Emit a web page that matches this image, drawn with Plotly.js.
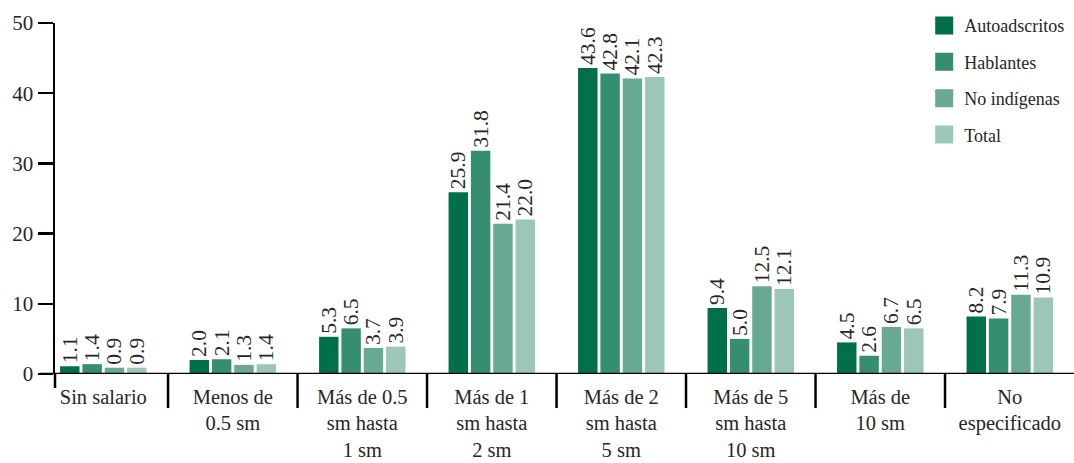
<!DOCTYPE html>
<html>
<head>
<meta charset="utf-8">
<script src="https://cdn.plot.ly/plotly-3.0.1.min.js"></script>
<style>
  html, body { margin: 0; padding: 0; background: #fff; }
  #chart { width: 1074px; height: 463px; }
</style>
</head>
<body>
<div id="chart"></div>
<script>
// Salary ranges (in minimum wages, "sm")
const categories = [
  "Sin salario",
  "Menos de<br>0.5 sm",
  "Más de 0.5<br>sm hasta<br>1 sm",
  "Más de 1<br>sm hasta<br>2 sm",
  "Más de 2<br>sm hasta<br>5 sm",
  "Más de 5<br>sm hasta<br>10 sm",
  "Más de<br>10 sm",
  "No<br>especificado"
];

// Percentage of workers per group
const autoadscritos = [1.1, 2.0, 5.3, 25.9, 43.6, 9.4, 4.5, 8.2];
const hablantes     = [1.4, 2.1, 6.5, 31.8, 42.8, 5.0, 2.6, 7.9];
const noIndigenas   = [0.9, 1.3, 3.7, 21.4, 42.1, 12.5, 6.7, 11.3];
const total         = [0.9, 1.4, 3.9, 22.0, 42.3, 12.1, 6.5, 10.9];

const seriesNames = ["Autoadscritos", "Hablantes", "No indígenas", "Total"];
const seriesValues = [autoadscritos, hablantes, noIndigenas, total];
const seriesColors = ["#00704a", "#358e6f", "#67a992", "#9cc7b7"];

const yTicks = [0, 10, 20, 30, 40, 50];

const FONT = "Liberation Serif";
const TEXT = "#262626";

const traces = seriesNames.map((name, i) => ({
  type: "bar",
  name: name,
  legendgroup: name,
  x: categories,
  y: seriesValues[i],
  marker: { color: seriesColors[i], line: { width: 0 } },
  texttemplate: "%{y:.1f}",
  textposition: "outside",
  textangle: -90,
  constraintext: "none",
  cliponaxis: false,
  textfont: { family: FONT, size: 21.5, color: TEXT },
  hoverinfo: "x+y+name"
}));

// Category separators below the baseline
const shapes = [];
for (let k = 0; k < categories.length - 1; k++) {
  shapes.push({
    type: "line", xref: "x", yref: "paper",
    x0: k + 0.5, x1: k + 0.5, y0: 0, y1: -0.097,
    line: { color: "#000", width: 2.5 }
  });
}
// Baseline extending left of the value axis
shapes.push({
  type: "line", xref: "paper", yref: "y",
  x0: -0.015, x1: 1, y0: 0, y1: 0,
  line: { color: "#000", width: 2.5 }
});
// Value axis extending below the baseline
shapes.push({
  type: "line", xref: "paper", yref: "paper",
  x0: 0, x1: 0, y0: 0, y1: -0.04,
  line: { color: "#000", width: 2.5 }
});

const layout = {
  width: 1074,
  height: 463,
  margin: { l: 55, r: 0, t: 23, b: 89 },
  paper_bgcolor: "#fff",
  plot_bgcolor: "#fff",
  font: { family: FONT, color: TEXT },
  barmode: "group",
  bargap: 0.31,
  bargroupgap: 0.13,
  showlegend: true,
  legend: {
    x: 0.853, xanchor: "left",
    y: 1.045, yanchor: "top",
    bgcolor: "rgba(0,0,0,0)",
    font: { family: FONT, size: 18, color: TEXT },
    tracegroupgap: 10,
    traceorder: "grouped"
  },
  xaxis: {
    type: "category",
    range: [-0.373, 7.496],
    showline: false,
    showgrid: false,
    zeroline: false,
    ticks: "",
    tickfont: { family: FONT, size: 20.5, color: TEXT },
    ticklabelstandoff: 8
  },
  yaxis: {
    range: [0, 50],
    tickvals: yTicks,
    ticktext: yTicks.map(String),
    showline: true,
    linecolor: "#000",
    linewidth: 2.5,
    ticks: "outside",
    ticklen: 15,
    tickwidth: 2.5,
    tickcolor: "#000",
    showgrid: false,
    zeroline: false,
    tickfont: { family: FONT, size: 21, color: TEXT }
  },
  shapes: shapes
};

Plotly.newPlot("chart", traces, layout, { displayModeBar: false, staticPlot: true }).then(() => {
  // Larger square swatches in the legend
  document.querySelectorAll(".legendpoints path").forEach(p => {
    p.setAttribute("d", "M9,9H-9V-9H9Z");
  });
});
</script>
</body>
</html>
